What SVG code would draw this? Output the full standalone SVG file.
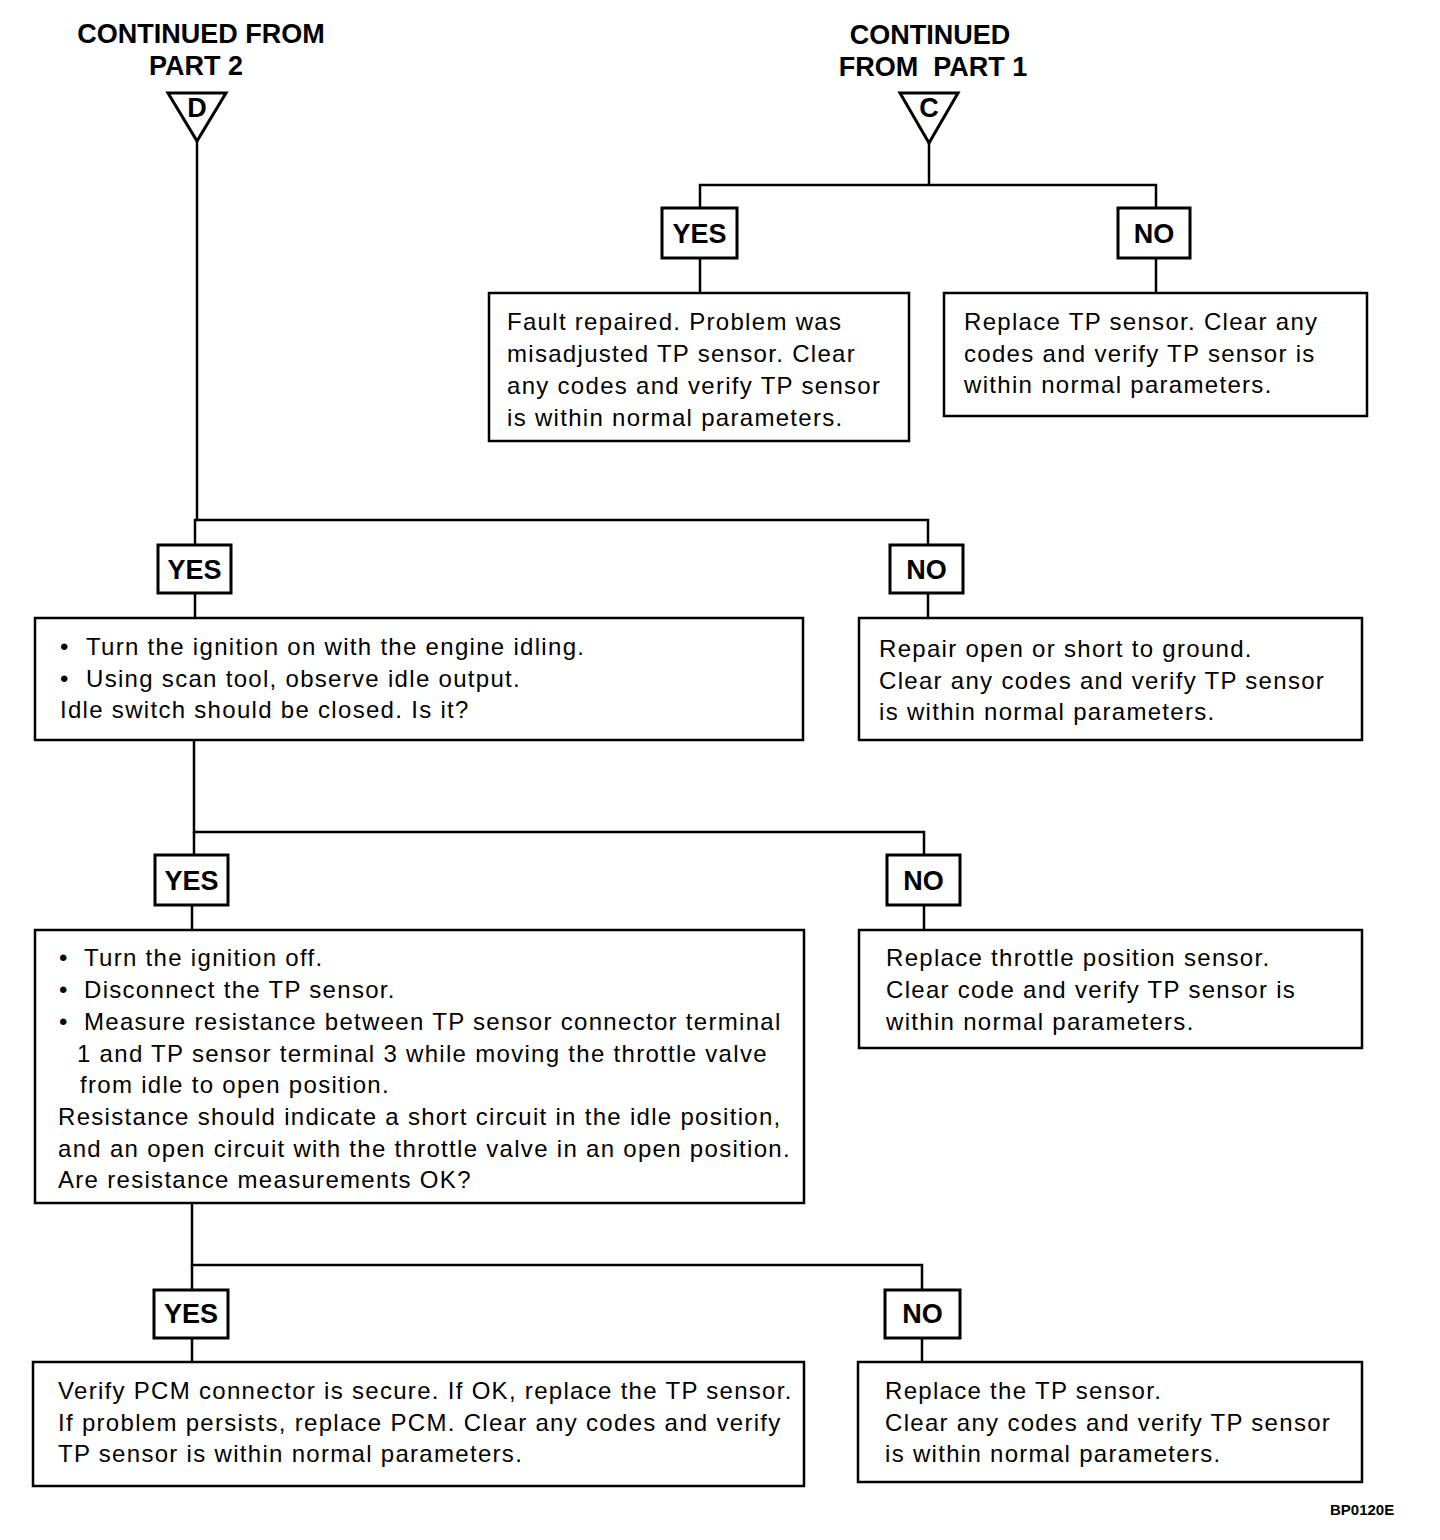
<svg xmlns="http://www.w3.org/2000/svg" width="1440" height="1540" viewBox="0 0 1440 1540">
<style>
.bg{fill:#fff}
.box{fill:#fff;stroke:#000;stroke-width:2.5}
.lbl{fill:#fff;stroke:#000;stroke-width:3}
.tri{fill:#fff;stroke:#000;stroke-width:3;stroke-linejoin:miter}
.ln{fill:none;stroke:#000;stroke-width:2.5}
.t{font-family:"Liberation Sans",Arial,sans-serif;font-size:24px;letter-spacing:1.3px;fill:#000}
.b{font-family:"Liberation Sans",Arial,sans-serif;font-size:27px;font-weight:bold;fill:#000}
.s{font-family:"Liberation Sans",Arial,sans-serif;font-size:15px;font-weight:bold;fill:#000}
</style>
<rect class="bg" x="0" y="0" width="1440" height="1540"/>
<g id="connectors">
<line class="ln" x1="197" y1="140" x2="197" y2="520"/>
<line class="ln" x1="929" y1="142" x2="929" y2="185"/>
<polyline class="ln" points="700,208 700,185 1156,185 1156,208"/>
<line class="ln" x1="700" y1="258" x2="700" y2="293"/>
<line class="ln" x1="1156" y1="258" x2="1156" y2="293"/>
<polyline class="ln" points="195,545 195,520 928,520 928,545"/>
<line class="ln" x1="195" y1="593" x2="195" y2="618"/>
<line class="ln" x1="928" y1="593" x2="928" y2="618"/>
<polyline class="ln" points="194,740 194,832 924,832 924,855"/>
<line class="ln" x1="194" y1="832" x2="194" y2="855"/>
<line class="ln" x1="192" y1="905" x2="192" y2="930"/>
<line class="ln" x1="924" y1="905" x2="924" y2="930"/>
<polyline class="ln" points="192,1203 192,1265 922,1265 922,1290"/>
<line class="ln" x1="192" y1="1265" x2="192" y2="1290"/>
<line class="ln" x1="192" y1="1338" x2="192" y2="1362"/>
<line class="ln" x1="922" y1="1338" x2="922" y2="1362"/>
</g>
<g id="startD">
<text class="b" x="201" y="43" text-anchor="middle">CONTINUED FROM</text>
<text class="b" x="196" y="75" text-anchor="middle">PART 2</text>
<polygon class="tri" points="168,93 226,93 197,141"/>
<text class="b" x="197" y="117" text-anchor="middle" font-size="23">D</text>
</g>
<g id="startC">
<text class="b" x="930" y="44" text-anchor="middle">CONTINUED</text>
<text class="b" x="933" y="76" text-anchor="middle" xml:space="preserve">FROM  PART 1</text>
<polygon class="tri" points="900,93 958,93 929,143"/>
<text class="b" x="929" y="117" text-anchor="middle" font-size="23">C</text>
</g>
<g id="yes1"><rect class="lbl" x="662" y="208" width="75" height="50"/><text class="b" x="699.500" y="243" text-anchor="middle">YES</text></g>
<g id="no1"><rect class="lbl" x="1118" y="208" width="72" height="50"/><text class="b" x="1154" y="243" text-anchor="middle">NO</text></g>
<g id="box1">
<rect class="box" x="489" y="293" width="420" height="148"/>
<text class="t" x="507" y="330">Fault repaired. Problem was</text>
<text class="t" x="507" y="362">misadjusted TP sensor. Clear</text>
<text class="t" x="507" y="394">any codes and verify TP sensor</text>
<text class="t" x="507" y="426">is within normal parameters.</text>
</g>
<g id="box2">
<rect class="box" x="944" y="293" width="423" height="123"/>
<text class="t" x="964" y="330">Replace TP sensor. Clear any</text>
<text class="t" x="964" y="362">codes and verify TP sensor is</text>
<text class="t" x="964" y="393">within normal parameters.</text>
</g>
<g id="yes2"><rect class="lbl" x="158" y="545" width="73" height="48"/><text class="b" x="194.500" y="579" text-anchor="middle">YES</text></g>
<g id="no2"><rect class="lbl" x="890" y="545" width="73" height="48"/><text class="b" x="926.500" y="579" text-anchor="middle">NO</text></g>
<g id="box3">
<rect class="box" x="35" y="618" width="768" height="122"/>
<text class="t" x="60" y="655">•</text><text class="t" x="86" y="655">Turn the ignition on with the engine idling.</text>
<text class="t" x="60" y="687">•</text><text class="t" x="86" y="687">Using scan tool, observe idle output.</text>
<text class="t" x="60" y="718">Idle switch should be closed. Is it?</text>
</g>
<g id="box4">
<rect class="box" x="859" y="618" width="503" height="122"/>
<text class="t" x="879" y="657">Repair open or short to ground.</text>
<text class="t" x="879" y="689">Clear any codes and verify TP sensor</text>
<text class="t" x="879" y="720">is within normal parameters.</text>
</g>
<g id="yes3"><rect class="lbl" x="155" y="855" width="73" height="50"/><text class="b" x="191.500" y="890" text-anchor="middle">YES</text></g>
<g id="no3"><rect class="lbl" x="887" y="855" width="73" height="50"/><text class="b" x="923.500" y="890" text-anchor="middle">NO</text></g>
<g id="box5">
<rect class="box" x="35" y="930" width="769" height="273"/>
<text class="t" x="59" y="966">•</text><text class="t" x="84" y="966">Turn the ignition off.</text>
<text class="t" x="59" y="998">•</text><text class="t" x="84" y="998">Disconnect the TP sensor.</text>
<text class="t" x="59" y="1030">•</text><text class="t" x="84" y="1030">Measure resistance between TP sensor connector terminal</text>
<text class="t" x="77" y="1062">1 and TP sensor terminal 3 while moving the throttle valve</text>
<text class="t" x="80" y="1093">from idle to open position.</text>
<text class="t" x="58" y="1125">Resistance should indicate a short circuit in the idle position,</text>
<text class="t" x="58" y="1157">and an open circuit with the throttle valve in an open position.</text>
<text class="t" x="58" y="1188">Are resistance measurements OK?</text>
</g>
<g id="box6">
<rect class="box" x="859" y="930" width="503" height="118"/>
<text class="t" x="886" y="966">Replace throttle position sensor.</text>
<text class="t" x="886" y="998">Clear code and verify TP sensor is</text>
<text class="t" x="886" y="1030">within normal parameters.</text>
</g>
<g id="yes4"><rect class="lbl" x="154" y="1290" width="74" height="48"/><text class="b" x="191" y="1323" text-anchor="middle">YES</text></g>
<g id="no4"><rect class="lbl" x="885" y="1290" width="75" height="48"/><text class="b" x="922.500" y="1323" text-anchor="middle">NO</text></g>
<g id="box7">
<rect class="box" x="33" y="1362" width="771" height="124"/>
<text class="t" x="58" y="1399">Verify PCM connector is secure. If OK, replace the TP sensor.</text>
<text class="t" x="58" y="1431">If problem persists, replace PCM. Clear any codes and verify</text>
<text class="t" x="58" y="1462">TP sensor is within normal parameters.</text>
</g>
<g id="box8">
<rect class="box" x="858" y="1362" width="504" height="120"/>
<text class="t" x="885" y="1399">Replace the TP sensor.</text>
<text class="t" x="885" y="1431">Clear any codes and verify TP sensor</text>
<text class="t" x="885" y="1462">is within normal parameters.</text>
</g>
<text class="s" x="1330" y="1515">BP0120E</text>
</svg>
